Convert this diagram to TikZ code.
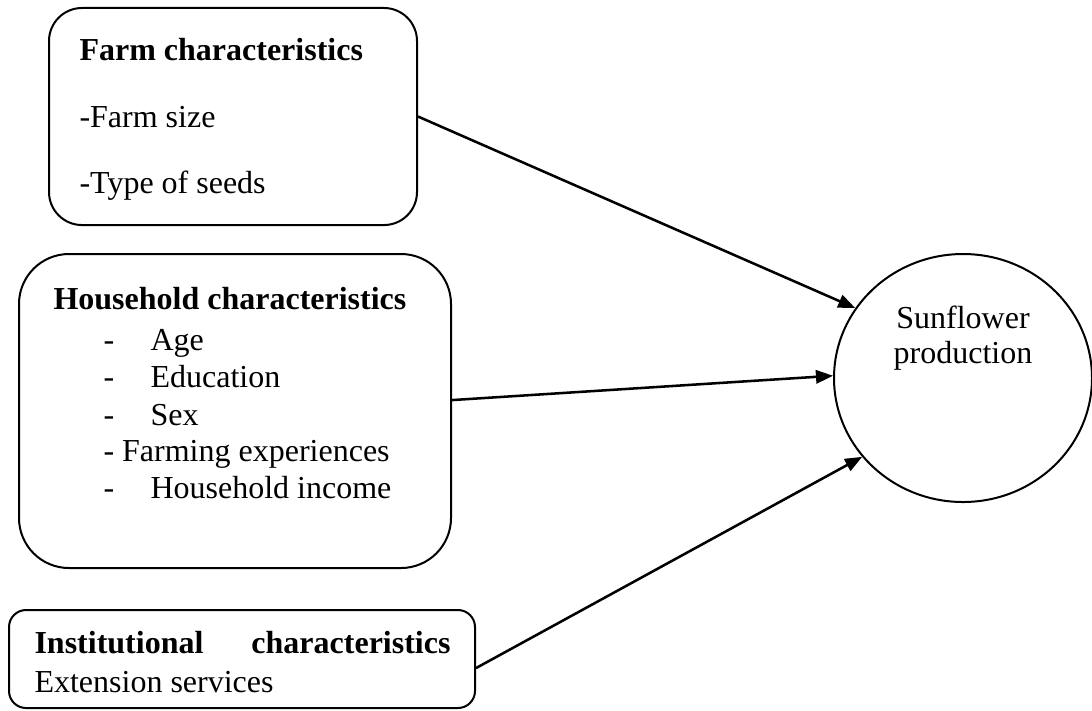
\documentclass[tikz,border=0pt]{standalone}
\usepackage{fontspec}
\setmainfont{Liberation Serif}
\usetikzlibrary{arrows.meta,shapes.geometric}
\tikzset{
  box/.style={draw, line width=0.75pt, inner sep=0pt},
  txt/.style={anchor=base west, inner sep=0pt, font=\fontsize{12}{14}\selectfont},
  ctxt/.style={anchor=base, inner sep=0pt, font=\fontsize{12}{14}\selectfont},
  link/.style={line width=0.95pt, -{Triangle[length=6.4pt,width=5pt]}}
}
\begin{document}
\begin{tikzpicture}[x=0.375pt,y=-0.375pt]
\useasboundingbox (0,0) rectangle (1092,710);
% boxes
\node[box, rounded corners=12.4pt, minimum width=138pt, minimum height=81.4pt] (farm) at (233,116.5) {};
\node[box, rounded corners=18.75pt, minimum width=162pt, minimum height=117.75pt] (hh) at (235,411) {};
\node[box, rounded corners=6.4pt, minimum width=174.75pt, minimum height=36.75pt] (inst) at (242,659) {};
\node[draw, line width=0.75pt, ellipse, inner sep=0pt, minimum width=96.75pt, minimum height=93pt] (sun) at (963,378) {};
% farm texts
\node[txt] (f0) at (79,60) {\textbf{Farm characteristics}};
\node[txt] (f1) at (79,127) {-Farm size};
\node[txt] (f2) at (79,193) {-Type of seeds};
% household texts
\node[txt] (h0) at (53,309) {\textbf{Household characteristics}};
\node[txt] (hd1) at (103,350) {-};
\node[txt] (h1) at (150,350) {Age};
\node[txt] (hd2) at (103,387) {-};
\node[txt] (h2) at (150,387) {Education};
\node[txt] (hd3) at (103,425) {-};
\node[txt] (h3) at (150,425) {Sex};
\node[txt] (h4) at (103,461) {- Farming experiences};
\node[txt] (hd5) at (103,498) {-};
\node[txt] (h5) at (150,498) {Household income};
% institutional texts
\node[txt] (i0) at (34,653) {\hbox to 156pt{\textbf{Institutional}\hfill\textbf{characteristics}}};
\node[txt] (i1) at (34,692) {Extension services};
% sunflower text
\node[ctxt] (s1) at (963,328) {Sunflower};
\node[ctxt] (s2) at (963,363) {production};
% connectors
\draw[link] (farm.east) -- (sun.147);
\draw[link] ([yshift=4.1pt]hh.east) -- (sun.179);
\draw[link] ([yshift=-3.4pt]inst.east) -- (sun.218);
\end{tikzpicture}
\end{document}
